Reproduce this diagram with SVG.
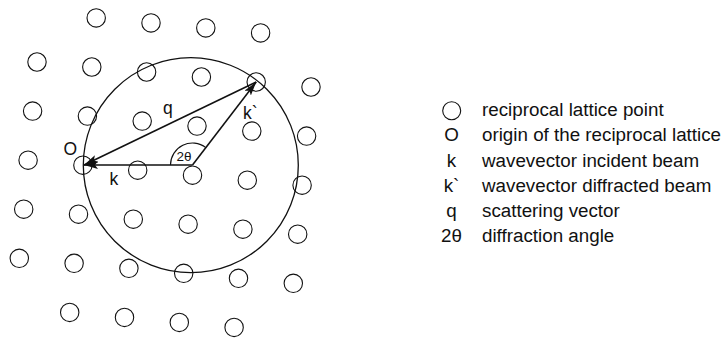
<svg xmlns="http://www.w3.org/2000/svg" width="724" height="338" viewBox="0 0 724 338">
<style>
.lp{fill:none;stroke:#111;stroke-width:1.1}
.ew{fill:none;stroke:#111;stroke-width:1.3}
.vec{fill:none;stroke:#111;stroke-width:1.6;marker-end:url(#ah)}
.arc{fill:none;stroke:#111;stroke-width:1.1}
text{font-family:"Liberation Sans",Arial,sans-serif;fill:#111}
.lbl{font-size:17.5px}
.sm{font-size:13.5px}
.lg{font-size:18.8px}
.sym{font-size:18.8px;text-anchor:middle}
</style>
<defs>
<marker id="ah" viewBox="0 0 14 8" refX="14" refY="4" markerWidth="14" markerHeight="8" markerUnits="userSpaceOnUse" orient="auto">
<path d="M0,0 L14,4 L0,8 L3,4 z" fill="#111"/>
</marker>
</defs>
<rect width="724" height="338" fill="#fff"/>
<g id="lattice">
<g id="p-0-1"><circle class="lp" cx="96.2" cy="17.9" r="9.2"/></g>
<g id="p-0-2"><circle class="lp" cx="151.0" cy="22.9" r="9.2"/></g>
<g id="p-0-3"><circle class="lp" cx="205.8" cy="27.9" r="9.2"/></g>
<g id="p-0-4"><circle class="lp" cx="260.6" cy="32.9" r="9.2"/></g>
<g id="p-1-0"><circle class="lp" cx="37.0" cy="62.0" r="9.2"/></g>
<g id="p-1-1"><circle class="lp" cx="91.8" cy="67.0" r="9.2"/></g>
<g id="p-1-2"><circle class="lp" cx="146.6" cy="72.0" r="9.2"/></g>
<g id="p-1-3"><circle class="lp" cx="201.4" cy="77.0" r="9.2"/></g>
<g id="p-1-4"><circle class="lp" cx="256.2" cy="82.0" r="9.2"/></g>
<g id="p-1-5"><circle class="lp" cx="311.0" cy="87.0" r="9.2"/></g>
<g id="p-2-0"><circle class="lp" cx="32.6" cy="111.1" r="9.2"/></g>
<g id="p-2-1"><circle class="lp" cx="87.4" cy="116.1" r="9.2"/></g>
<g id="p-2-2"><circle class="lp" cx="142.2" cy="121.1" r="9.2"/></g>
<g id="p-2-3"><circle class="lp" cx="197.0" cy="126.1" r="9.2"/></g>
<g id="p-2-4"><circle class="lp" cx="251.8" cy="131.1" r="9.2"/></g>
<g id="p-2-5"><circle class="lp" cx="306.6" cy="136.1" r="9.2"/></g>
<g id="p-3-0"><circle class="lp" cx="28.1" cy="160.2" r="9.2"/></g>
<g id="p-3-1"><circle class="lp" cx="82.9" cy="165.2" r="9.2"/></g>
<g id="p-3-2"><circle class="lp" cx="137.7" cy="170.2" r="9.2"/></g>
<g id="p-3-3"><circle class="lp" cx="192.5" cy="175.2" r="9.2"/></g>
<g id="p-3-4"><circle class="lp" cx="247.3" cy="180.2" r="9.2"/></g>
<g id="p-3-5"><circle class="lp" cx="302.1" cy="185.2" r="9.2"/></g>
<g id="p-4-0"><circle class="lp" cx="23.7" cy="209.2" r="9.2"/></g>
<g id="p-4-1"><circle class="lp" cx="78.5" cy="214.2" r="9.2"/></g>
<g id="p-4-2"><circle class="lp" cx="133.3" cy="219.2" r="9.2"/></g>
<g id="p-4-3"><circle class="lp" cx="188.1" cy="224.2" r="9.2"/></g>
<g id="p-4-4"><circle class="lp" cx="242.9" cy="229.2" r="9.2"/></g>
<g id="p-4-5"><circle class="lp" cx="297.7" cy="234.2" r="9.2"/></g>
<g id="p-5-0"><circle class="lp" cx="19.3" cy="258.3" r="9.2"/></g>
<g id="p-5-1"><circle class="lp" cx="74.1" cy="263.3" r="9.2"/></g>
<g id="p-5-2"><circle class="lp" cx="128.9" cy="268.3" r="9.2"/></g>
<g id="p-5-3"><circle class="lp" cx="183.7" cy="273.3" r="9.2"/></g>
<g id="p-5-4"><circle class="lp" cx="238.5" cy="278.3" r="9.2"/></g>
<g id="p-5-5"><circle class="lp" cx="293.3" cy="283.3" r="9.2"/></g>
<g id="p-6-1"><circle class="lp" cx="69.7" cy="312.4" r="9.2"/></g>
<g id="p-6-2"><circle class="lp" cx="124.5" cy="317.4" r="9.2"/></g>
<g id="p-6-3"><circle class="lp" cx="179.3" cy="322.4" r="9.2"/></g>
<g id="p-6-4"><circle class="lp" cx="234.1" cy="327.4" r="9.2"/></g>
</g>
<g id="ewald"><circle class="ew" cx="190.8" cy="165.2" r="107.5"/></g>
<g id="connectors">
<path class="vec" d="M192.5,165 L84,165"/>
<path class="vec" d="M256.2,82 L84,165"/>
<path class="vec" d="M192.5,165 L256.2,82"/>
<path class="arc" d="M170.5,165 A22,22 0 0 1 205.9,147.6"/>
</g>
<g id="labels">
<text class="lbl" x="163" y="114">q</text>
<text class="lbl" x="243" y="118.5">k`</text>
<text class="lbl" x="63.5" y="154.5">O</text>
<text class="lbl" x="109.5" y="184.5">k</text>
<text class="sm" x="176.5" y="161">2θ</text>
</g>
<g id="legend">
<circle class="lp" cx="451.7" cy="110.8" r="9"/>
<text class="lg" x="482" y="115.5">reciprocal lattice point</text>
<text class="sym" x="451.5" y="141">O</text>
<text class="lg" x="482" y="141">origin of the reciprocal lattice</text>
<text class="sym" x="451.5" y="166.5">k</text>
<text class="lg" x="482" y="166.5">wavevector incident beam</text>
<text class="sym" x="451.5" y="192">k`</text>
<text class="lg" x="482" y="192">wavevector diffracted beam</text>
<text class="sym" x="451.5" y="217">q</text>
<text class="lg" x="482" y="217">scattering vector</text>
<text class="sym" x="451.5" y="242">2θ</text>
<text class="lg" x="482" y="242">diffraction angle</text>
</g>
</svg>
